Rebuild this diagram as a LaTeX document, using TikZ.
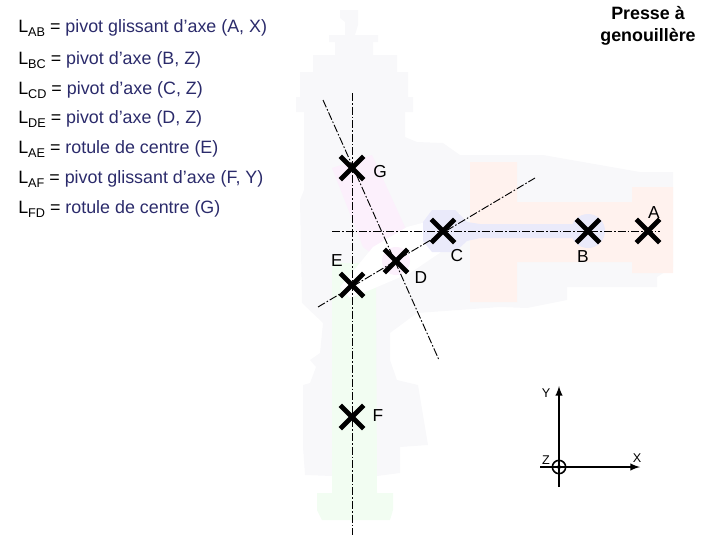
\documentclass[tikz,border=0pt]{standalone}
\usepackage{fontspec}
\setmainfont{Liberation Sans}
\usepackage{tikz}
\usetikzlibrary{shapes,arrows,positioning,calc}
\definecolor{encre}{HTML}{2B2B6B}
\definecolor{bati}{HTML}{F8F8FA}
\definecolor{rose}{HTML}{FCF0FC}
\definecolor{vert}{HTML}{F2FDF2}
\definecolor{saumon}{HTML}{FFF2EE}
\definecolor{lavande}{HTML}{EAEAFA}
\newcommand{\liaison}[2]{L\raisebox{-0.45ex}{\fontsize{9.5}{11}\selectfont #1} = \textcolor{encre}{#2}}

\begin{document}
\begin{tikzpicture}[
    x=0.75pt, y=-0.75pt,
    piece/.style={draw=none},
    liaisontxt/.style={anchor=west, font=\fontsize{13.4}{15}\selectfont, text height=9pt, text depth=3pt, inner sep=0pt},
    lettre/.style={font=\fontsize{13}{15}\selectfont, inner sep=0pt},
    petit/.style={font=\fontsize{9.5}{11}\selectfont, inner sep=0pt},
    croix/.style={cross out, draw=black, line width=3.6pt, minimum size=14pt, inner sep=0pt},
    axe/.style={black, line width=0.7pt, dash pattern=on 6pt off 1.5pt on 1.2pt off 1.5pt},
    fleche/.style={-latex, black, line width=1.5pt}
]
\useasboundingbox (0,0) rectangle (720,540);

% Bati
\fill [piece, bati] (340,10) -- (358,10) -- (358,25) -- (355,35) -- (378,35) -- (378,42) -- (373,42) -- (373,55)
  -- (397,55) -- (397,72) -- (408,72) -- (408,97) -- (413,97) -- (413,112) -- (405,112) -- (405,137) -- (417,142)
  -- (443,143) -- (460,155) -- (543,155) -- (640,172) -- (673,172) -- (673,267) -- (657,277) -- (657,287)
  -- (567,287) -- (567,300) -- (527,308) -- (500,307) -- (417,313) -- (390,333) -- (390,360) -- (397,380)
  -- (418,385) -- (428,445) -- (400,447) -- (400,473) -- (377,476) -- (332,476) -- (305,475) -- (303,447)
  -- (303,385) -- (310,383) -- (316,367) -- (310,360) -- (320,353) -- (323,323) -- (302,303) -- (300,200)
  -- (304,190) -- (304,112) -- (296,112) -- (296,97) -- (300,97) -- (300,72) -- (313,72) -- (313,55)
  -- (335,55) -- (335,42) -- (329,42) -- (329,35) -- (345,35) -- (345,22) -- (340,18) -- cycle;

% Verin
\fill [piece, vert] (332,263) -- (376,263) -- (377,493) -- (393,493) -- (393,510) -- (390,520) -- (322,520)
  -- (317,510) -- (317,493) -- (332,493) -- cycle;

% Piston
\fill [piece, saumon] (470,162) -- (517,162) -- (517,202) -- (632,202) -- (632,187) -- (673,187) -- (673,273)
  -- (632,273) -- (632,262) -- (517,262) -- (517,302) -- (470,302) -- cycle;

% Biellette
\fill [piece, rose] (332,168) -- (372,155) -- (405,227) -- (410,261) -- (396,275) -- (382,261) -- (363,247) -- cycle;

% Levier
\fill [piece, white] (340,287) -- (373,247) -- (407,227) -- (460,213) -- (447,248) -- (410,273) -- (363,293) -- (350,298) -- cycle;
\fill [piece, rose] (396,261) circle [radius=10.5pt];

% Bielle
\fill [piece, lavande] (432,210) -- (455,210) -- (467,222) -- (480,224) -- (578,224) -- (578,238) -- (480,238)
  -- (467,241) -- (455,252) -- (432,252) -- (423,241) -- (423,222) -- cycle;
\fill [piece, lavande] (588,231) circle [radius=12.75pt];

% Axes
\coordinate (gh) at (352,93);
\coordinate (fb) at (352,535);
\coordinate (cg) at (332,231);
\coordinate (ad) at (660,231);
\coordinate (eb) at (318,307);
\coordinate (ch) at (535,178);
\coordinate (dh) at (323,100);
\coordinate (db) at (439,360);
\draw [axe] (gh) -- (fb);
\draw [axe] (cg) -- (ad);
\draw [axe] (eb) -- (ch);
\draw [axe] (dh) -- (db);

% Centres
\node at (648,231) [croix] (a) {};
\node at (588,231) [croix] (b) {};
\node at (443,231) [croix] (c) {};
\node at (396,261) [croix] (d) {};
\node at (352,285) [croix] (e) {};
\node at (352,417) [croix] (f) {};
\node at (352,168) [croix] (g) {};

% Lettres
\node at (654,213) [lettre] (la) {A};
\node at (583,257) [lettre] (lb) {B};
\node at (457,256) [lettre] (lc) {C};
\node at (421,278) [lettre] (ld) {D};
\node at (337,261) [lettre] (le) {E};
\node at (378,416) [lettre] (lf) {F};
\node at (380,172) [lettre] (lg) {G};

% Liaisons
\node at (18,28) [liaisontxt] (lab) {\liaison{AB}{pivot glissant d’axe (A, X)}};
\node at (18,60) [liaisontxt] (lbc) {\liaison{BC}{pivot d’axe (B, Z)}};
\node at (18,90) [liaisontxt] (lcd) {\liaison{CD}{pivot d’axe (C, Z)}};
\node at (18,119) [liaisontxt] (lde) {\liaison{DE}{pivot d’axe (D, Z)}};
\node at (18,149) [liaisontxt] (lae) {\liaison{AE}{rotule de centre (E)}};
\node at (18,179) [liaisontxt] (laf) {\liaison{AF}{pivot glissant d’axe (F, Y)}};
\node at (18,209) [liaisontxt] (lfd) {\liaison{FD}{rotule de centre (G)}};

% Titre
\node at (648,26) [align=center, font=\fontsize{13.4}{17}\selectfont\bfseries, inner sep=0pt] (titre) {Presse à\\genouillère};

% Repere
\coordinate (o) at (559,467);
\coordinate (yh) at (559,386);
\coordinate (yb) at (559,487);
\coordinate (xg) at (540,467);
\coordinate (xd) at (640,467);
\draw [fleche] (yb) -- (yh);
\draw [fleche] (xg) -- (xd);
\node at (o) [circle, draw=black, line width=1.2pt, minimum size=10pt, inner sep=0pt] (oz) {};
\fill [black] (o) circle [radius=1.5pt];
\node at (546,393) [petit] (ly) {Y};
\node at (546,460) [petit] (lz) {Z};
\node at (637,458) [petit] (lx) {X};

\end{tikzpicture}
\end{document}
